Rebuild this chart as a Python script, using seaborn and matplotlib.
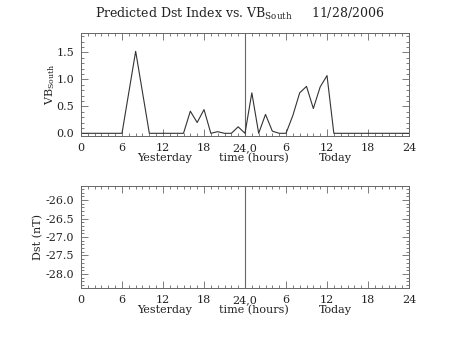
import numpy as np
import pandas as pd
import matplotlib
matplotlib.use("Agg")
import matplotlib.pyplot as plt
from matplotlib.ticker import MultipleLocator, FormatStrFormatter
import seaborn as sns

sns.set_theme(style="white")
plt.rcParams["font.family"] = ["DejaVu Serif"]
plt.rcParams["mathtext.fontset"] = "dejavuserif"

# Hourly VB_South over yesterday (0-23) and today (24-48)
hours = list(range(0, 49))
vb_south = [0, 0, 0, 0, 0, 0, 0, 0.76, 1.52, 0.76, 0,
            0, 0, 0, 0, 0, 0.41, 0.2, 0.44, 0, 0.03,
            0, 0, 0.12, 0, 0.75, 0, 0.35, 0.04, 0, 0,
            0.33, 0.75, 0.87, 0.46, 0.86, 1.07, 0, 0, 0, 0,
            0, 0, 0, 0, 0, 0, 0, 0]

tick_pos = [0, 6, 12, 18, 24, 30, 36, 42, 48]
tick_labels = ["0", "6", "12", "18", "24,0", "6", "12", "18", "24"]
title_text = r"Predicted Dst Index vs. VB$_{\rm South}$     11/28/2006"

df = pd.DataFrame({"hour": hours, "vb": vb_south})

fig = plt.figure(figsize=(4.53, 3.40), dpi=100)
ax1 = fig.add_axes([0.1788, 0.600, 0.7241, 0.303])
ax2 = fig.add_axes([0.1788, 0.153, 0.7241, 0.300])

edge = "#666666"
txt = "#222222"
for ax in (ax1, ax2):
    ax.set_xlim(0, 48)
    ax.set_xticks(tick_pos)
    ax.set_xticklabels(tick_labels)
    ax.xaxis.set_minor_locator(MultipleLocator(1))
    ax.yaxis.set_minor_locator(MultipleLocator(0.1))
    ax.yaxis.set_major_locator(MultipleLocator(0.5))
    ax.yaxis.set_major_formatter(FormatStrFormatter("%.1f"))
    ax.tick_params(which="both", direction="in", top=True, right=True,
                   bottom=True, left=True, color=edge, width=0.6,
                   labelsize=8, pad=5, labelcolor=txt)
    ax.tick_params(which="major", length=5)
    ax.tick_params(which="minor", length=2.5)
    for s in ax.spines.values():
        s.set_color(edge)
        s.set_linewidth(0.7)
    ax.axvline(24, color=edge, lw=0.8)
    for x, t in ((12.3, "Yesterday"), (25.3, "time (hours)"), (37.2, "Today")):
        ax.text(x, -0.165, t, transform=ax.get_xaxis_transform(),
                ha="center", va="top", fontsize=8, color=txt)

sns.lineplot(data=df, x="hour", y="vb", ax=ax1, color="#333333", lw=0.8)
ax1.set_ylim(-0.05, 1.86)
ax1.set_xlabel("")
ax1.set_ylabel(r"VB$_{\rm South}$", fontsize=8, color=txt)
ax1.yaxis.set_label_coords(-0.073, 0.5)

ax2.set_ylim(-28.38, -25.62)
ax2.set_xlabel("")
ax2.set_ylabel("Dst (nT)", fontsize=8, color=txt)
ax2.yaxis.set_label_coords(-0.116, 0.5)

fig.text(0.53, 0.935, title_text, ha="center", va="bottom", fontsize=9,
         color=txt)

fig.savefig("out.png", dpi=100, facecolor="white")
